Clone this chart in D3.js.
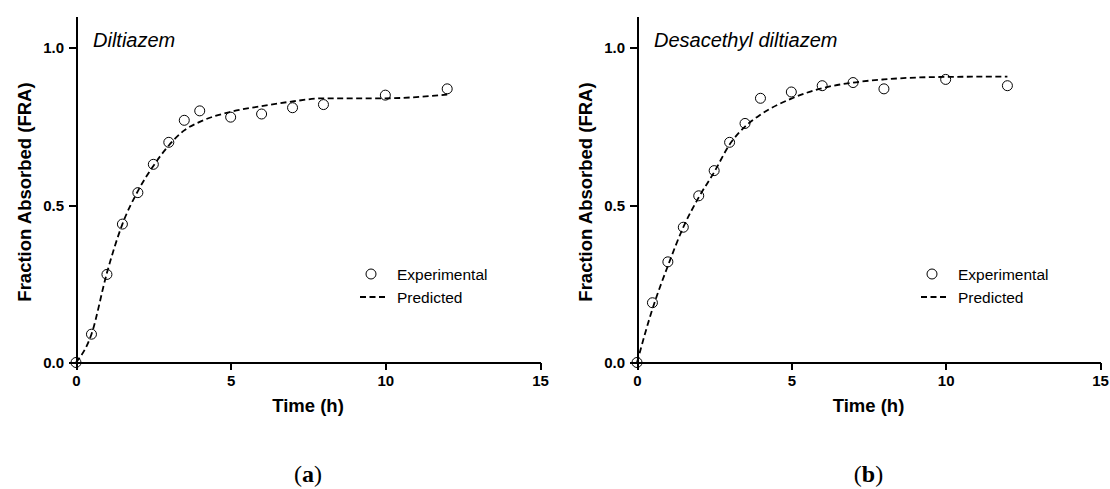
<!DOCTYPE html>
<html lang="en">
<head>
<meta charset="utf-8">
<title>Fraction absorbed</title>
<script src="https://cdn.jsdelivr.net/npm/d3@7"></script>
<style>
  body { margin: 0; background: #fff; }
  .axis path, .axis line { stroke: #000; stroke-width: 2px; shape-rendering: crispEdges; }
  .axis text { font-family: "Liberation Sans", Arial, sans-serif; font-weight: bold; font-size: 15px; fill: #000; }
  .lab { font-family: "Liberation Sans", Arial, sans-serif; font-weight: bold; font-size: 18.5px; }
  .ttl { font-family: "Liberation Sans", Arial, sans-serif; font-style: italic; font-size: 20px; }
  .leg { font-family: "Liberation Sans", Arial, sans-serif; font-size: 15.5px; }
  .cap { font-family: "Liberation Serif", "Times New Roman", serif; font-size: 24px; }
</style>
</head>
<body>
<div id="chart"></div>
<script>
var width = 1110,
    height = 489;

// time points (h)
var times = [0, 0.5, 1, 1.5, 2, 2.5, 3, 3.5, 4, 5, 6, 7, 8, 10, 12];

// (a) Diltiazem
var diltExp  = [0, 0.09, 0.28, 0.44, 0.54, 0.63, 0.70, 0.77, 0.80, 0.78, 0.79, 0.81, 0.82, 0.85, 0.87];
var diltPred = [0, 0.09, 0.285, 0.44, 0.545, 0.625, 0.69, 0.738, 0.765, 0.797, 0.815, 0.83, 0.84, 0.84, 0.852];

// (b) Desacethyl diltiazem
var desExp  = [0, 0.19, 0.32, 0.43, 0.53, 0.61, 0.70, 0.76, 0.84, 0.86, 0.88, 0.89, 0.87, 0.90, 0.88];
var desPred = [0, 0.17, 0.307, 0.43, 0.525, 0.605, 0.693, 0.75, 0.788, 0.839, 0.872, 0.89, 0.90, 0.908, 0.909];

var xTicks = [0, 5, 10, 15];
var yTicks = [0, 0.5, 1.0];

var panels = [
  { title: "Diltiazem", caption: "a", exp: diltExp, pred: diltPred, x0: 76, x1: 540 },
  { title: "Desacethyl diltiazem", caption: "b", exp: desExp, pred: desPred, x0: 637, x1: 1100 }
];

var svg = d3.select("#chart")
    .append("svg")
    .attr("width", width)
    .attr("height", height);

var y = d3.scaleLinear().domain([0, 1.1]).range([362.5, 16.5]);

panels.forEach(function(p) {
  var x = d3.scaleLinear().domain([0, 15]).range([p.x0, p.x1]);
  var g = svg.append("g");

  var pts = times.map(function(t, i) { return { t: t, v: p.exp[i] }; });
  var pred = times.map(function(t, i) { return { t: t, v: p.pred[i] }; });

  g.append("g")
      .attr("class", "axis")
      .attr("transform", "translate(0," + y(0) + ")")
      .call(d3.axisBottom(x).tickValues(xTicks).tickSize(7).tickPadding(6).tickSizeOuter(0));

  g.append("g")
      .attr("class", "axis")
      .attr("transform", "translate(" + x(0) + ",0)")
      .call(d3.axisLeft(y).tickValues(yTicks).tickFormat(d3.format(".1f")).tickSize(7).tickPadding(5).tickSizeOuter(0));

  var line = d3.line()
      .x(function(d) { return x(d.t); })
      .y(function(d) { return y(d.v); })
      .curve(d3.curveMonotoneX);

  g.append("path")
      .datum(pred)
      .attr("d", line)
      .attr("fill", "none")
      .attr("stroke", "#000")
      .attr("stroke-width", 1.8)
      .attr("stroke-dasharray", "6,3.5");

  g.selectAll("circle.pt")
      .data(pts)
    .enter().append("circle")
      .attr("class", "pt")
      .attr("cx", function(d) { return x(d.t); })
      .attr("cy", function(d) { return y(d.v); })
      .attr("r", 5)
      .attr("fill", "none")
      .attr("stroke", "#000")
      .attr("stroke-width", 1);

  // titles and labels
  g.append("text")
      .attr("class", "ttl")
      .attr("x", p.x0 + 17)
      .attr("y", 46.5)
      .text(p.title);

  g.append("text")
      .attr("class", "lab")
      .attr("text-anchor", "middle")
      .attr("transform", "translate(" + (p.x0 - 51) + ",192) rotate(-90)")
      .attr("dy", "0.35em")
      .text("Fraction Absorbed (FRA)");

  g.append("text")
      .attr("class", "lab")
      .attr("text-anchor", "middle")
      .attr("x", (p.x0 + p.x1) / 2)
      .attr("y", 412)
      .text("Time (h)");

  var cap = g.append("text")
      .attr("class", "cap")
      .attr("text-anchor", "middle")
      .attr("x", (p.x0 + p.x1) / 2)
      .attr("y", 482);
  cap.append("tspan").text("(");
  cap.append("tspan").attr("font-weight", "bold").text(p.caption);
  cap.append("tspan").text(")");

  // legend
  var lg = g.append("g").attr("transform", "translate(" + p.x0 + ",0)");
  lg.append("circle")
      .attr("cx", 295).attr("cy", 274).attr("r", 5)
      .attr("fill", "none").attr("stroke", "#000").attr("stroke-width", 1);
  lg.append("text").attr("class", "leg").attr("x", 321).attr("y", 279.5).text("Experimental");
  lg.append("line")
      .attr("x1", 284).attr("x2", 309).attr("y1", 297).attr("y2", 297)
      .attr("stroke", "#000").attr("stroke-width", 1.8).attr("stroke-dasharray", "6,3.5");
  lg.append("text").attr("class", "leg").attr("x", 321).attr("y", 302.5).text("Predicted");
});
</script>
</body>
</html>
